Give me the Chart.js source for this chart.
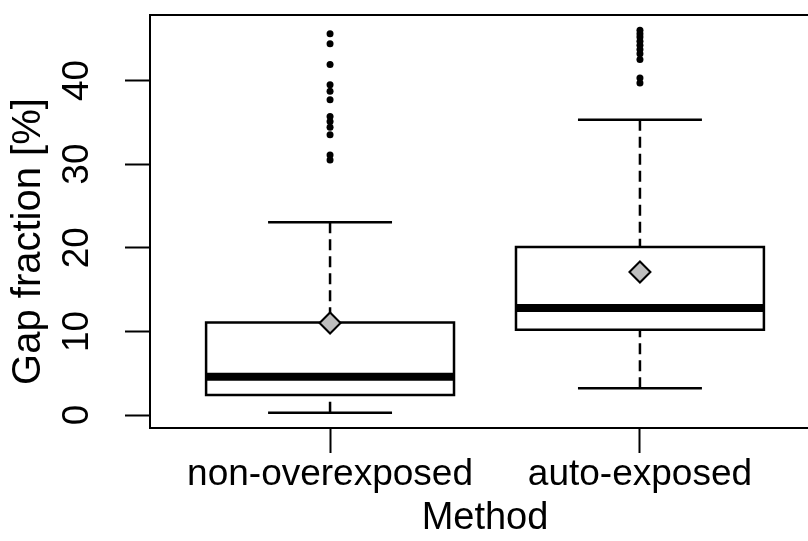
<!DOCTYPE html>
<html>
<head>
<meta charset="utf-8">
<title>Gap fraction by method</title>
<script src="https://cdn.jsdelivr.net/npm/chart.js@4.4.0/dist/chart.umd.min.js"></script>
<style>
  html, body { margin: 0; padding: 0; background: #ffffff; overflow: hidden; }
  #wrap { width: 822px; height: 541px; }
</style>
</head>
<body>
<div id="wrap"><canvas id="chart" width="822" height="541"></canvas></div>
<script>
// ========================================
// Data
// ========================================
const categories = ['non-overexposed', 'auto-exposed'];
const whiskerLow = [0.28, 3.2];
const quartile1 = [2.4, 10.2];
const medians = [4.58, 12.8];
const quartile3 = [11.07, 20.1];
const whiskerHigh = [23.06, 35.3];
const means = [11.0, 17.1];
const outliersNonOver = [30.5, 31.1, 33.5, 34.4, 35.1, 35.7, 37.7, 38.7, 39.5, 41.9, 44.4, 45.6];
const outliersAuto = [39.7, 40.3, 42.5, 43.2, 43.7, 44.2, 44.7, 45.2, 45.6, 46.0];
const yTicks = [0, 10, 20, 30, 40];

const X_TITLE = 'Method';
const Y_TITLE = 'Gap fraction [%]';

// ========================================
// Layout constants
// ========================================
const BOX_HALF = 0.4;
const CAP_HALF = 0.2;
const X_MIN = 0.419;
const X_MAX = 2.581;
const Y_MIN = -1.55;
const Y_MAX = 47.83;
const FONT = "'Liberation Sans', Arial, sans-serif";

const xPos = categories.map((_, i) => i + 1);
const outliers = [outliersNonOver, outliersAuto];

Chart.defaults.font.family = FONT;
Chart.defaults.color = '#000000';

// ========================================
// Build datasets (first one is drawn on top)
// ========================================
const lineBase = {
    showLine: true,
    pointRadius: 0,
    borderColor: '#000000',
    fill: false,
    tension: 0
};

const datasets = [];

// mean diamonds
datasets.push({
    data: xPos.map((x, i) => ({ x: x, y: means[i] })),
    pointStyle: 'rectRot',
    pointRadius: 10.5,
    backgroundColor: '#bebebe',
    borderColor: '#000000',
    borderWidth: 2
});

// outliers
datasets.push({
    data: outliers.flatMap((arr, i) => arr.map(y => ({ x: xPos[i], y: y }))),
    pointStyle: 'circle',
    pointRadius: 3.5,
    backgroundColor: '#000000',
    borderWidth: 0
});

xPos.forEach((x, i) => {
    // median
    datasets.push({
        ...lineBase,
        data: [{ x: x - BOX_HALF, y: medians[i] }, { x: x + BOX_HALF, y: medians[i] }],
        borderWidth: 8,
        borderCapStyle: 'butt'
    });
    // box
    datasets.push({
        ...lineBase,
        data: [
            { x: x - BOX_HALF, y: quartile1[i] },
            { x: x + BOX_HALF, y: quartile1[i] },
            { x: x + BOX_HALF, y: quartile3[i] },
            { x: x - BOX_HALF, y: quartile3[i] },
            { x: x - BOX_HALF, y: quartile1[i] }
        ],
        borderWidth: 2.5,
        borderJoinStyle: 'miter',
        borderCapStyle: 'square'
    });
    // whiskers (dashed, drawn from the cap toward the box)
    datasets.push({
        ...lineBase,
        data: [{ x: x, y: whiskerHigh[i] }, { x: x, y: quartile3[i] }],
        borderWidth: 2.5,
        borderDash: [11, 6]
    });
    datasets.push({
        ...lineBase,
        data: [{ x: x, y: whiskerLow[i] }, { x: x, y: quartile1[i] }],
        borderWidth: 2.5,
        borderDash: [11, 6]
    });
    // caps
    datasets.push({
        ...lineBase,
        data: [{ x: x - CAP_HALF, y: whiskerHigh[i] }, { x: x + CAP_HALF, y: whiskerHigh[i] }],
        borderWidth: 2.5
    });
    datasets.push({
        ...lineBase,
        data: [{ x: x - CAP_HALF, y: whiskerLow[i] }, { x: x + CAP_HALF, y: whiskerLow[i] }],
        borderWidth: 2.5
    });
});

// ========================================
// Y axis title (sits a little below the plot centre, as in the original)
// ========================================
const yTitlePlugin = {
    id: 'yTitle',
    afterDraw(chart) {
        const { ctx, chartArea } = chart;
        const cy = (chartArea.top + chartArea.bottom) / 2 + 20;
        ctx.save();
        ctx.translate(29, cy);
        ctx.rotate(-Math.PI / 2);
        ctx.font = '40px ' + FONT;
        ctx.fillStyle = '#000000';
        ctx.textAlign = 'center';
        ctx.textBaseline = 'middle';
        ctx.fillText(Y_TITLE, 0, 0);
        ctx.restore();
    }
};

// keep the plot frame exactly where the layout padding puts it
function noScalePadding(s) {
    s.paddingTop = 0;
    s.paddingBottom = 0;
    s.paddingLeft = 0;
    s.paddingRight = 0;
}

// ========================================
// Axis styling
// ========================================
const tickGrid = {
    drawOnChartArea: false,
    drawTicks: true,
    tickLength: 25,
    tickWidth: 2,
    tickColor: '#000000'
};
const frameBorder = { display: true, color: '#000000', width: 2 };

new Chart(document.getElementById('chart'), {
    type: 'scatter',
    data: { datasets: datasets },
    plugins: [yTitlePlugin],
    options: {
        responsive: false,
        animation: false,
        events: [],
        layout: { autoPadding: false, padding: { top: 15, right: 2, bottom: 0, left: 0 } },
        plugins: {
            legend: { display: false },
            tooltip: { enabled: false }
        },
        scales: {
            x: {
                type: 'linear',
                position: 'bottom',
                min: X_MIN,
                max: X_MAX,
                afterBuildTicks: s => { s.ticks = xPos.map(v => ({ value: v })); },
                afterFit: s => { s.height = 113; noScalePadding(s); },
                ticks: {
                    callback: v => categories[v - 1] || '',
                    font: { size: 37 },
                    color: '#000000',
                    padding: 0,
                    minRotation: 0,
                    maxRotation: 0,
                    autoSkip: false
                },
                grid: tickGrid,
                border: frameBorder,
                title: {
                    display: true,
                    text: X_TITLE,
                    font: { size: 38 },
                    color: '#000000',
                    padding: { top: 0, bottom: 0 }
                }
            },
            y: {
                type: 'linear',
                position: 'left',
                min: Y_MIN,
                max: Y_MAX,
                afterBuildTicks: s => { s.ticks = yTicks.map(v => ({ value: v })); },
                afterFit: s => { s.width = 150; noScalePadding(s); },
                ticks: {
                    font: { size: 37 },
                    color: '#000000',
                    minRotation: 90,
                    maxRotation: 90,
                    crossAlign: 'center',
                    padding: 27
                },
                grid: tickGrid,
                border: frameBorder,
                title: { display: false }
            },
            x2: {
                type: 'linear',
                position: 'top',
                display: true,
                min: X_MIN,
                max: X_MAX,
                afterFit: s => { s.height = 0; noScalePadding(s); },
                ticks: { display: false },
                grid: { display: false },
                border: frameBorder
            },
            y2: {
                type: 'linear',
                position: 'right',
                display: true,
                min: Y_MIN,
                max: Y_MAX,
                afterFit: s => { s.width = 0; noScalePadding(s); },
                ticks: { display: false },
                grid: { display: false },
                border: frameBorder
            }
        }
    }
});
</script>
</body>
</html>
